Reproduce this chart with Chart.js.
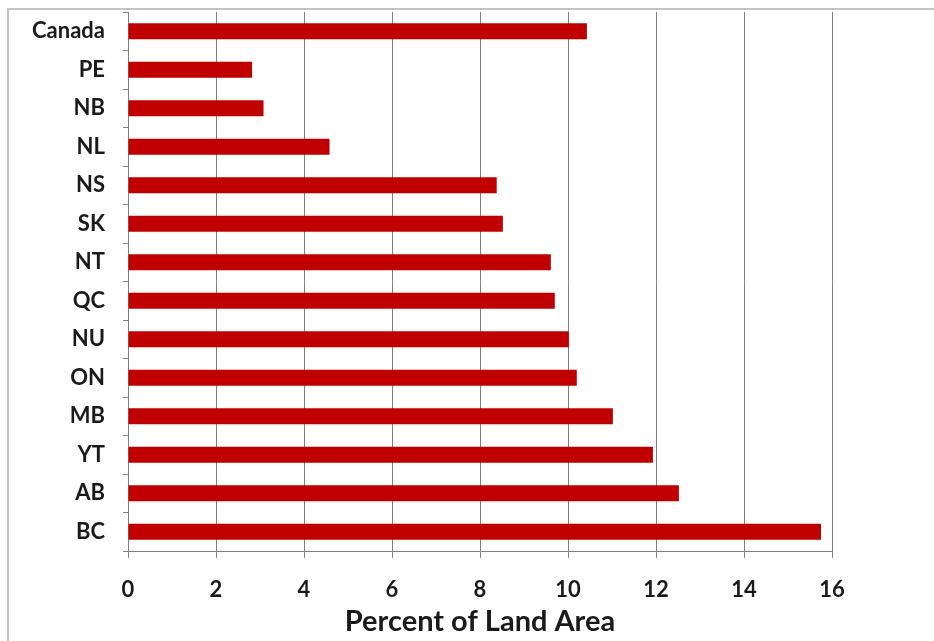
<!DOCTYPE html>
<html>
<head>
<meta charset="utf-8">
<script src="https://cdn.jsdelivr.net/npm/chart.js"></script>
<style>
  body { margin: 0; background: #fff; overflow: hidden; }
  #frame { position: absolute; left: 7px; top: 8px; width: 940px; height: 631px; border: 2px solid #c4c4c4; }
  #myChart { position: absolute; left: 0; top: 0; }
</style>
</head>
<body>
<div id="frame"></div>
<canvas id="myChart" width="934" height="641"></canvas>
<script>
const regions = ['Canada', 'PE', 'NB', 'NL', 'NS', 'SK', 'NT', 'QC', 'NU', 'ON', 'MB', 'YT', 'AB', 'BC'];
const percentLand = [10.43, 2.82, 3.08, 4.58, 8.38, 8.52, 9.61, 9.7, 10.02, 10.2, 11.02, 11.93, 12.52, 15.75];
const xTicks = [0, 2, 4, 6, 8, 10, 12, 14, 16];
const axisTitle = 'Percent of Land Area';

const ctx = document.getElementById('myChart');
const font = 'Lato, "Liberation Sans", sans-serif';

new Chart(ctx, {
  type: 'bar',
  data: {
    labels: regions,
    datasets: [{
      data: percentLand,
      backgroundColor: '#c00000',
      barPercentage: 0.42,
      categoryPercentage: 1
    }]
  },
  options: {
    indexAxis: 'y',
    responsive: false,
    animation: false,
    layout: { padding: { top: 12, right: 102, left: 0, bottom: 0 } },
    plugins: { legend: { display: false }, tooltip: { enabled: false } },
    scales: {
      x: {
        min: 0,
        max: 16,
        afterBuildTicks: (scale) => { scale.ticks = xTicks.map(v => ({ value: v })); },
        afterFit: (scale) => { scale.height = 90; scale.paddingLeft = 0; scale.paddingRight = 0; },
        grid: { color: '#808080', lineWidth: 1, tickLength: 7, drawOnChartArea: true },
        border: { color: '#808080', width: 1 },
        ticks: { color: '#1a1a1a', padding: 19, font: { family: font, size: 22, weight: 'bold' } },
        title: {
          display: true,
          text: axisTitle,
          color: '#1a1a1a',
          padding: { top: 0, bottom: 2 },
          font: { family: font, size: 29, weight: 'bold' }
        }
      },
      y: {
        afterFit: (scale) => { scale.width = 128; scale.paddingTop = 0; scale.paddingBottom = 0; },
        grid: { offset: true, drawOnChartArea: false, color: '#808080', tickLength: 5 },
        border: { color: '#808080', width: 1 },
        ticks: { color: '#1a1a1a', padding: 18, font: { family: font, size: 22, weight: 'bold' } }
      }
    }
  }
});
</script>
</body>
</html>
